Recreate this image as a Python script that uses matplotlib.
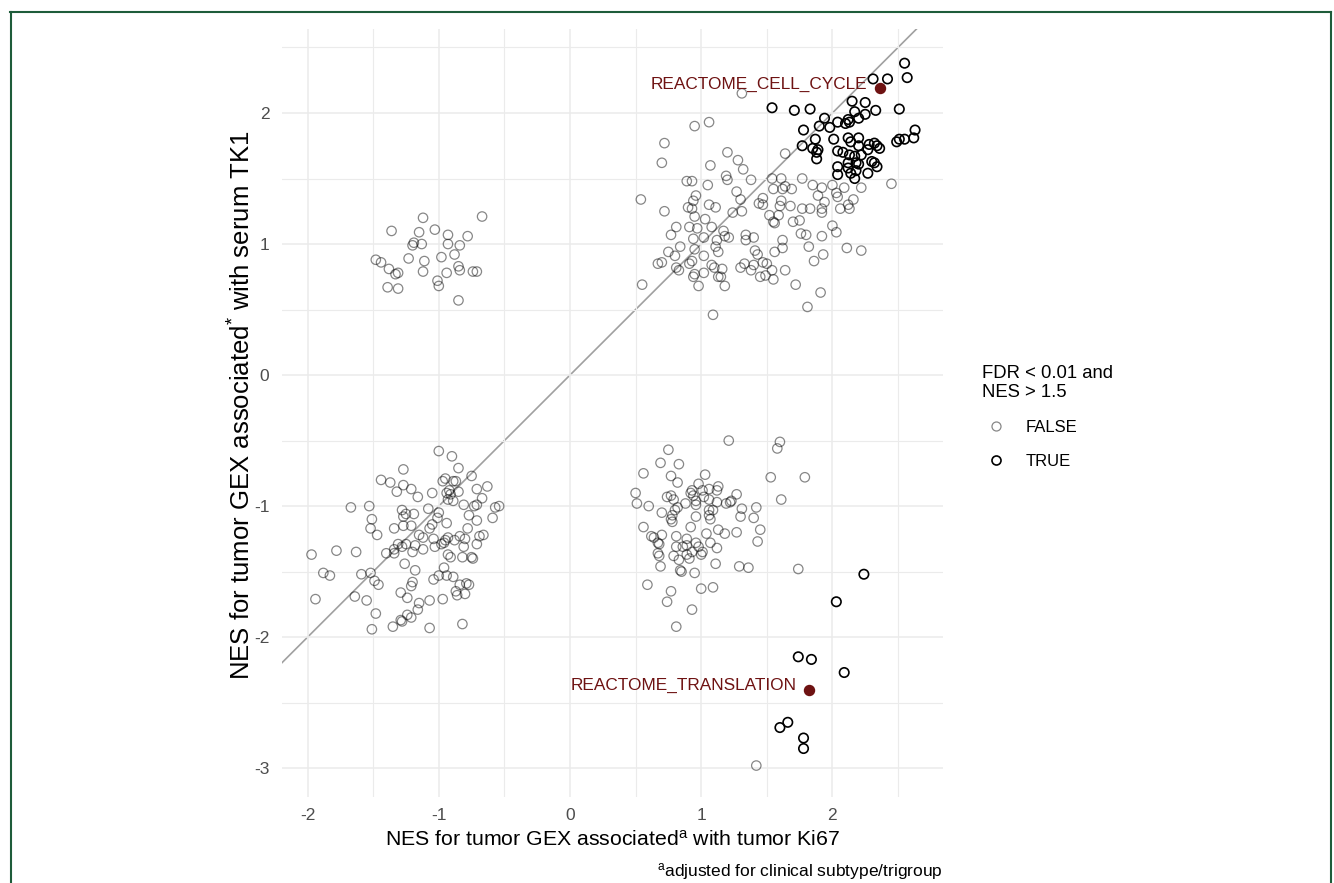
import numpy as np
import matplotlib.pyplot as plt
from matplotlib.lines import Line2D

plt.rcParams['font.family'] = ['Liberation Sans', 'DejaVu Sans']
plt.rcParams['mathtext.fontset'] = 'custom'
plt.rcParams['mathtext.rm'] = 'Liberation Sans'
plt.rcParams['mathtext.it'] = 'Liberation Sans:italic'

# pathways not passing the threshold (FALSE)
false_pts = [
    # upper left
    (-1.12, 1.20), (-0.67, 1.21), (-1.36, 1.10), (-1.03, 1.11), (-1.15, 1.09), (-0.93, 1.07),
    (-0.78, 1.06), (-1.20, 0.99), (-1.19, 1.01), (-1.13, 1.00), (-0.93, 1.00), (-0.84, 0.99),
    (-1.48, 0.88), (-1.44, 0.86), (-1.23, 0.89), (-1.11, 0.87), (-0.98, 0.90), (-0.88, 0.92),
    (-1.38, 0.81), (-1.33, 0.77), (-1.31, 0.78), (-1.12, 0.79), (-0.94, 0.78), (-0.85, 0.83),
    (-0.84, 0.80), (-0.74, 0.79), (-0.71, 0.79), (-1.01, 0.72), (-1.00, 0.68), (-1.39, 0.67),
    (-1.31, 0.66), (-0.85, 0.57),
    # lower left
    (-1.00, -0.58), (-0.90, -0.62), (-1.27, -0.72), (-0.85, -0.71), (-1.44, -0.80), (-1.37, -0.82),
    (-1.27, -0.84), (-1.21, -0.87), (-1.32, -0.89), (-1.16, -0.93), (-1.05, -0.90), (-0.97, -0.81),
    (-0.95, -0.79), (-0.89, -0.81), (-0.87, -0.81), (-0.75, -0.77), (-0.92, -0.88), (-0.91, -0.91),
    (-0.94, -0.90), (-0.85, -0.89), (-0.71, -0.87), (-0.63, -0.85), (-0.67, -0.94), (-0.93, -0.95),
    (-0.89, -0.96), (-1.67, -1.01), (-1.53, -1.00), (-1.28, -1.03), (-1.25, -1.06), (-1.27, -1.08),
    (-1.19, -1.06), (-1.08, -1.02), (-1.00, -1.05), (-1.01, -1.09), (-0.81, -0.99), (-0.73, -1.00),
    (-0.71, -0.99), (-0.57, -1.01), (-0.54, -1.00), (-0.77, -1.07), (-0.71, -1.11), (-0.59, -1.09),
    (-1.51, -1.10), (-1.52, -1.17), (-1.47, -1.22), (-1.34, -1.17), (-1.27, -1.15), (-1.21, -1.15),
    (-1.07, -1.17), (-1.05, -1.14), (-0.94, -1.13), (-0.78, -1.17), (-1.15, -1.22), (-1.12, -1.24),
    (-1.04, -1.25), (-0.93, -1.24), (-0.84, -1.23), (-0.80, -1.25), (-0.69, -1.23), (-0.66, -1.22),
    (-0.71, -1.29), (-0.81, -1.31), (-0.88, -1.26), (-0.96, -1.28), (-0.98, -1.29), (-0.95, -1.26),
    (-1.03, -1.31), (-1.18, -1.30), (-1.12, -1.33), (-1.20, -1.35), (-1.28, -1.31), (-1.34, -1.33),
    (-1.34, -1.36), (-1.40, -1.36), (-1.31, -1.29), (-1.25, -1.29), (-1.97, -1.37), (-1.78, -1.34),
    (-1.63, -1.35), (-0.93, -1.37), (-0.91, -1.39), (-0.82, -1.39), (-0.75, -1.39), (-0.74, -1.40),
    (-1.26, -1.44), (-1.18, -1.49), (-0.96, -1.47), (-1.88, -1.51), (-1.83, -1.53), (-1.59, -1.52),
    (-1.52, -1.51), (-1.49, -1.57), (-1.46, -1.60), (-1.20, -1.58), (-1.21, -1.61), (-1.04, -1.56),
    (-1.00, -1.53), (-0.94, -1.53), (-0.89, -1.54), (-0.84, -1.60), (-0.79, -1.59), (-0.77, -1.60),
    (-0.87, -1.65), (-0.86, -1.68), (-0.80, -1.67), (-1.29, -1.66), (-1.24, -1.70), (-1.94, -1.71),
    (-1.64, -1.69), (-1.55, -1.72), (-1.15, -1.74), (-1.16, -1.79), (-1.07, -1.72), (-0.97, -1.71),
    (-1.48, -1.82), (-1.24, -1.83), (-1.21, -1.85), (-1.29, -1.87), (-1.28, -1.88), (-1.35, -1.92),
    (-1.51, -1.94), (-1.07, -1.93), (-0.82, -1.90),
    # lower right
    (1.21, -0.50), (1.60, -0.51), (1.58, -0.56), (0.75, -0.57), (0.69, -0.67), (0.83, -0.68),
    (0.56, -0.75), (0.77, -0.77), (0.82, -0.82), (1.03, -0.76), (1.53, -0.78), (1.79, -0.78),
    (0.98, -0.83), (1.13, -0.85), (1.12, -0.88), (1.06, -0.87), (1.01, -0.88), (0.93, -0.88),
    (0.92, -0.90), (0.94, -0.92), (1.02, -0.93), (1.06, -0.95), (1.12, -0.97), (1.19, -0.98),
    (1.22, -0.97), (1.23, -0.96), (1.27, -0.91), (0.50, -0.90), (0.51, -0.98), (0.60, -1.00),
    (0.74, -0.93), (0.77, -0.92), (0.79, -0.95), (0.88, -0.98), (0.96, -0.99), (0.96, -0.96),
    (0.82, -1.01), (0.80, -1.03), (0.70, -1.05), (0.78, -1.07), (0.77, -1.10), (0.78, -1.12),
    (0.96, -1.08), (1.06, -1.03), (1.09, -1.03), (1.06, -1.07), (1.07, -1.10), (1.31, -1.02),
    (1.30, -1.08), (1.42, -1.01), (1.40, -1.09), (1.61, -0.95), (0.56, -1.16), (0.62, -1.23),
    (0.64, -1.24), (0.70, -1.22), (0.67, -1.28), (0.68, -1.29), (0.92, -1.16), (0.81, -1.23),
    (0.89, -1.25), (1.04, -1.21), (1.13, -1.18), (1.18, -1.21), (1.27, -1.20), (1.45, -1.18),
    (1.43, -1.27), (1.07, -1.28), (1.12, -1.32), (0.81, -1.31), (0.86, -1.31), (0.89, -1.30),
    (0.96, -1.28), (0.98, -1.31), (1.01, -1.35), (1.00, -1.37), (0.93, -1.35), (0.89, -1.37),
    (0.91, -1.40), (0.83, -1.41), (0.79, -1.38), (0.67, -1.36), (0.68, -1.38), (0.69, -1.46),
    (0.84, -1.49), (0.85, -1.50), (0.95, -1.51), (1.11, -1.44), (1.29, -1.46), (1.36, -1.47),
    (1.74, -1.48), (0.59, -1.60), (0.77, -1.65), (1.00, -1.63), (1.09, -1.62), (0.74, -1.73),
    (0.93, -1.79), (0.81, -1.92), (1.42, -2.98),
    # upper right
    (0.95, 1.90), (1.06, 1.93), (0.72, 1.77), (0.70, 1.62), (1.20, 1.70), (1.28, 1.64),
    (1.32, 1.57), (1.07, 1.60), (1.19, 1.52), (1.20, 1.49), (0.89, 1.48), (0.93, 1.48),
    (1.05, 1.45), (1.38, 1.49), (1.64, 1.69), (1.54, 1.50), (1.61, 1.50), (1.77, 1.50),
    (0.96, 1.37), (1.27, 1.40), (1.30, 1.34), (0.94, 1.33), (0.54, 1.34), (0.90, 1.28),
    (0.93, 1.27), (1.06, 1.30), (1.11, 1.28), (0.72, 1.25), (1.31, 1.25), (1.24, 1.24),
    (0.95, 1.21), (1.03, 1.19), (1.44, 1.31), (1.47, 1.35), (1.47, 1.30), (1.55, 1.42),
    (1.62, 1.42), (1.64, 1.44), (1.69, 1.42), (1.61, 1.33), (1.60, 1.29), (1.68, 1.29),
    (1.77, 1.27), (1.52, 1.22), (1.59, 1.22), (1.55, 1.17), (1.56, 1.16), (1.70, 1.17),
    (1.75, 1.18), (0.81, 1.13), (0.77, 1.07), (0.91, 1.13), (0.97, 1.12), (1.08, 1.13),
    (0.94, 1.04), (1.02, 1.05), (1.17, 1.10), (1.18, 1.06), (1.21, 1.05), (1.12, 1.03),
    (1.11, 0.98), (1.13, 0.94), (1.34, 1.07), (1.34, 1.03), (1.40, 1.05), (1.62, 1.03),
    (1.62, 0.97), (1.56, 0.94), (1.76, 1.08), (1.80, 1.07), (1.82, 0.98), (0.84, 0.98),
    (0.75, 0.94), (0.80, 0.91), (0.95, 0.96), (1.02, 0.91), (0.67, 0.85), (0.70, 0.86),
    (0.91, 0.85), (0.93, 0.87), (0.81, 0.82), (0.83, 0.80), (1.08, 0.84), (1.10, 0.82),
    (1.16, 0.81), (1.41, 0.95), (1.43, 0.92), (1.47, 0.86), (1.50, 0.85), (1.30, 0.82),
    (1.33, 0.85), (1.38, 0.80), (1.40, 0.84), (1.54, 0.80), (1.64, 0.80), (1.45, 0.75),
    (1.49, 0.76), (1.55, 0.73), (0.95, 0.77), (0.94, 0.75), (1.02, 0.78), (1.13, 0.75),
    (1.15, 0.75), (0.98, 0.68), (1.18, 0.68), (0.55, 0.69), (1.72, 0.69), (1.81, 0.52),
    (1.09, 0.46), (2.45, 1.46), (2.22, 1.43), (1.85, 1.45), (1.92, 1.43), (2.00, 1.45),
    (2.09, 1.43), (1.89, 1.37), (2.03, 1.39), (2.04, 1.36), (2.16, 1.34), (1.94, 1.32),
    (2.12, 1.30), (2.13, 1.27), (2.06, 1.27), (1.83, 1.27), (1.92, 1.27), (1.92, 1.24),
    (2.00, 1.14), (2.03, 1.09), (1.92, 1.06), (2.11, 0.97), (2.22, 0.95), (1.93, 0.92),
    (1.86, 0.87), (1.91, 0.63), (1.31, 2.15),
]

# FDR < 0.01 and NES > 1.5 (TRUE)
true_pts = [
    (2.55, 2.38), (2.57, 2.27), (2.42, 2.26), (2.31, 2.26), (1.54, 2.04), (1.71, 2.02),
    (1.83, 2.03), (2.15, 2.09), (2.25, 2.08), (2.51, 2.03), (2.33, 2.02), (2.17, 2.01),
    (2.25, 1.99), (2.20, 1.96), (2.12, 1.95), (2.10, 1.92), (2.04, 1.93), (2.13, 1.93),
    (1.94, 1.96), (1.90, 1.90), (1.98, 1.89), (1.78, 1.87), (2.63, 1.87), (2.12, 1.81),
    (2.20, 1.81), (2.14, 1.78), (1.87, 1.80), (2.01, 1.80), (2.55, 1.80), (2.62, 1.81),
    (2.51, 1.80), (2.49, 1.78), (1.77, 1.75), (1.85, 1.73), (1.89, 1.72), (1.88, 1.70),
    (2.04, 1.71), (2.08, 1.70), (2.20, 1.75), (2.28, 1.76), (2.32, 1.77), (2.34, 1.75),
    (2.36, 1.73), (2.27, 1.72), (2.22, 1.68), (2.17, 1.67), (2.13, 1.68), (1.88, 1.65),
    (2.30, 1.63), (2.32, 1.62), (2.12, 1.62), (2.18, 1.62), (2.04, 1.59), (2.04, 1.53),
    (2.12, 1.58), (2.18, 1.56), (2.14, 1.54), (2.27, 1.54), (2.34, 1.59), (2.20, 1.61),
    (2.17, 1.50),
    (2.24, -1.52), (2.03, -1.73), (1.74, -2.15), (1.84, -2.17), (2.09, -2.27),
    (1.60, -2.69), (1.66, -2.65), (1.78, -2.77), (1.78, -2.85),
]

hl_names = ["REACTOME_CELL_CYCLE", "REACTOME_TRANSLATION"]
hl_x = [2.36, 1.82]
hl_y = [2.19, -2.40]

xf, yf = np.array(false_pts).T
xt, yt = np.array(true_pts).T

fig = plt.figure(figsize=(13.34, 8.83), dpi=100)
ax = fig.add_axes([282 / 1334, 86 / 883, 661 / 1334, 768 / 883])

ax.set_xlim(-2.195, 2.843)
ax.set_ylim(-3.22, 2.641)

# ggplot-like minimal grid
ax.set_xticks([-2, -1, 0, 1, 2])
ax.set_yticks([-3, -2, -1, 0, 1, 2])
ax.set_xticks([-1.5, -0.5, 0.5, 1.5, 2.5], minor=True)
ax.set_yticks([-2.5, -1.5, -0.5, 0.5, 1.5, 2.5], minor=True)
ax.grid(which='major', color='#ebebeb', linewidth=1.1, zorder=0)
ax.grid(which='minor', color='#ebebeb', linewidth=0.8, zorder=0)
for s in ax.spines.values():
    s.set_visible(False)
ax.tick_params(which='both', length=0)
ax.tick_params(axis='y', pad=9, labelsize=12.5, labelcolor='#4d4d4d')
ax.tick_params(axis='x', pad=8, labelsize=12.5, labelcolor='#4d4d4d')
ax.set_xticklabels(['-2', '-1', '0', '1', '2'])
ax.set_yticklabels(['-3', '-2', '-1', '0', '1', '2'])

# identity line
ax.axline((0, 0), slope=1, color='#a0a0a0', linewidth=1.2, zorder=1)

ax.scatter(xf, yf, s=46, facecolors='none', edgecolors=(0, 0, 0, 0.47), linewidths=0.9, zorder=2)
ax.scatter(xt, yt, s=46, facecolors='none', edgecolors='black', linewidths=1.2, zorder=3)
ax.scatter(hl_x, hl_y, s=52, color='#6e1212', zorder=4)

for name, x, y in zip(hl_names, hl_x, hl_y):
    ax.annotate(name, (x, y), xytext=(-9, 3), textcoords='offset points',
                ha='right', va='center', fontsize=12.4, color='#6e1212', zorder=5)

ax.set_xlabel(r"NES for tumor GEX associated$^{\mathrm{a}}$ with tumor Ki67", fontsize=15.3, labelpad=5)
ax.set_ylabel(r"NES for tumor GEX associated$^{*}$ with serum TK1", fontsize=18.5, labelpad=-1)
ax.yaxis.label.set_y(0.51)

fig.text(943 / 1334, 1 - 871 / 883, r"$^{\mathrm{a}}$adjusted for clinical subtype/trigroup",
         ha='right', va='center', fontsize=12.5)

handles = [
    Line2D([], [], marker='o', linestyle='none', markersize=6.5, markerfacecolor='none',
           markeredgecolor=(0, 0, 0, 0.47), markeredgewidth=0.9),
    Line2D([], [], marker='o', linestyle='none', markersize=6.5, markerfacecolor='none',
           markeredgecolor='black', markeredgewidth=1.2),
]
leg = fig.legend(handles, ['FALSE', 'TRUE'], title="FDR < 0.01 and\nNES > 1.5",
                 loc='upper left', bbox_to_anchor=(974 / 1334, 1 - 357 / 883),
                 frameon=False, fontsize=12, title_fontsize=13.3, alignment='left',
                 handletextpad=1.0, labelspacing=1.15, borderpad=0, handlelength=1.6)
leg.get_title().set_linespacing(1.1)

# green frame around the figure
fc = '#1e5c3a'
fig.add_artist(Line2D([10 / 1334, 1331 / 1334], [1 - 11.5 / 883, 1 - 11.5 / 883],
                      color=fc, linewidth=1.5, transform=fig.transFigure))
fig.add_artist(Line2D([10.5 / 1334, 10.5 / 1334], [0, 1 - 11.5 / 883],
                      color=fc, linewidth=1.5, transform=fig.transFigure))
fig.add_artist(Line2D([1331 / 1334, 1331 / 1334], [0, 1 - 11.5 / 883],
                      color=fc, linewidth=1.5, transform=fig.transFigure))

fig.savefig('out.png', dpi=100)
